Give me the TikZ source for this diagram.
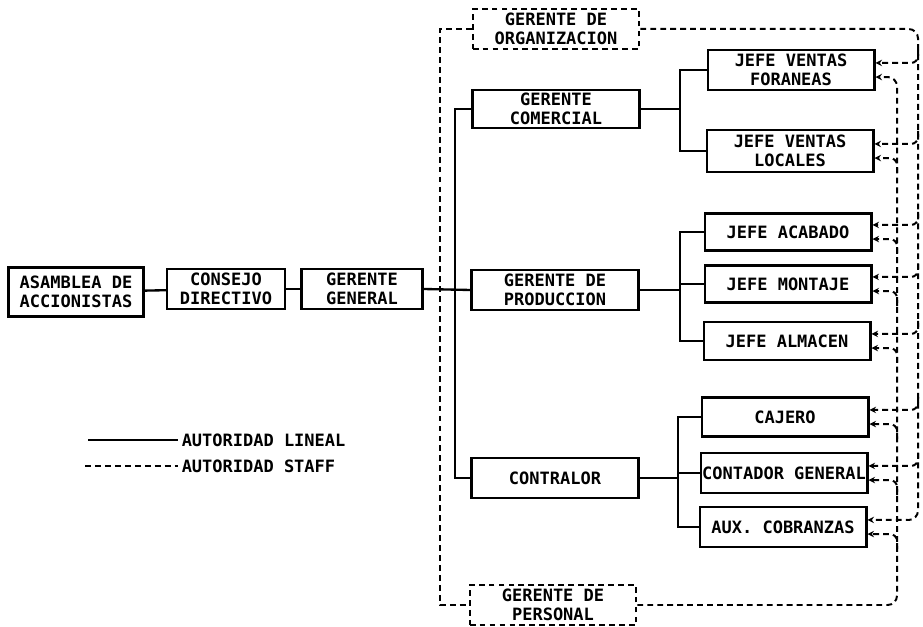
\documentclass[tikz,border=0pt]{standalone}
\usepackage{fontspec}
\setmonofont{DejaVu Sans Mono}
\usetikzlibrary{arrows.meta,calc}

\newcommand{\orgfont}{\ttfamily\bfseries\fontsize{14.5}{16}\selectfont}
\tikzset{
  caja/.style={draw,line width=2pt,align=center,inner sep=1pt,minimum width=5cm,minimum height=1.2cm,font=\orgfont},
  cajastaff/.style={caja,line width=1.7pt,dash pattern=on 5pt off 3.5pt},
  lineal/.style={line width=2pt},
  staff/.style={line width=1.7pt,dash pattern=on 5pt off 3.5pt},
  flecha/.style={staff,-{Stealth[length=5.5pt,width=5.5pt]}},
}

\begin{document}
\begin{tikzpicture}[x=0.03cm,y=-0.03cm]
\useasboundingbox (0,0) rectangle (923,627);
% cuerpo directivo
\node[caja,minimum width=4.05cm,minimum height=1.47cm] (asamblea) at (76,292) {ASAMBLEA DE\\ACCIONISTAS};
\node[caja,minimum width=3.54cm] (consejo) at (226,289) {CONSEJO\\DIRECTIVO};
\node[caja,minimum width=3.63cm] (general) at (362,289) {GERENTE\\GENERAL};
% gerencias
\node[cajastaff] (organizacion) at (556,29) {GERENTE DE\\ORGANIZACION};
\node[caja,minimum height=1.14cm] (comercial) at (556,109) {GERENTE\\COMERCIAL};
\node[caja] (produccion) at (555,290) {GERENTE DE\\PRODUCCION};
\node[caja] (contralor) at (555,478) {CONTRALOR};
\node[cajastaff] (personal) at (553,605) {GERENTE DE\\PERSONAL};
% jefaturas
\node[caja] (foraneas) at (791,70) {JEFE VENTAS\\FORANEAS};
\node[caja,minimum height=1.26cm] (locales) at (790,151) {JEFE VENTAS\\LOCALES};
\node[caja,minimum height=1.11cm] (acabado) at (788,232) {JEFE ACABADO};
\node[caja,minimum height=1.11cm] (montaje) at (788,284) {JEFE MONTAJE};
\node[caja,minimum height=1.14cm] (almacen) at (787,341) {JEFE ALMACEN};
\node[caja,minimum height=1.17cm] (cajero) at (785,417) {CAJERO};
\node[caja] (contador) at (784,473) {CONTADOR GENERAL};
\node[caja] (aux) at (783,527) {AUX. COBRANZAS};

% autoridad lineal
\coordinate (tronco) at (455,0);
\coordinate (rama) at (680,0);
\coordinate (rama2) at (678,0);
\draw[lineal] (asamblea) -- (consejo);
\draw[lineal] (consejo) -- (general);
\draw[lineal] (general.east) -- (produccion.west);
\draw[lineal] (comercial.west) -| (tronco |- contralor.west) -- (contralor.west);
\draw[lineal] (comercial.east) -- (comercial.east -| rama);
\draw[lineal] (foraneas.west) -| (rama |- locales.west) -- (locales.west);
\draw[lineal] (produccion.east) -- (produccion.east -| rama);
\draw[lineal] (acabado.west) -| (rama |- almacen.west) -- (almacen.west);
\draw[lineal] (montaje.west) -- (montaje.west -| rama);
\draw[lineal] (contralor.east) -- (contralor.east -| rama2);
\draw[lineal] (cajero.west) -| (rama2 |- aux.west) -- (aux.west);
\draw[lineal] (contador.west) -- (contador.west -| rama2);

% autoridad staff
\coordinate (izq) at (440,0);
\coordinate (ext) at (918,0);
\coordinate (int) at (897,0);
\draw[staff] (organizacion.west) -| (izq |- personal.west) -- (personal.west);
\draw[flecha,rounded corners=8pt] (organizacion.east) -- (organizacion.east -| ext)
  -- ($(ext |- aux.east)+(0,-7)$) -- ([yshift=6pt]aux.east);
\foreach \b in {foraneas,locales,acabado,montaje,almacen,cajero,contador}
  \draw[flecha,rounded corners=6pt] ($(ext |- \b.east)+(0,-20)$) |- ([yshift=6pt]\b.east);
\draw[flecha,rounded corners=8pt] (personal.east) -- (personal.east -| int)
  -- ($(int |- foraneas.east)+(0,7)$) -- ([yshift=-6pt]foraneas.east);
\foreach \b in {locales,acabado,montaje,almacen,cajero,contador,aux}
  \draw[flecha,rounded corners=6pt] ($(int |- \b.east)+(0,22)$) |- ([yshift=-6pt]\b.east);

% simbologia
\coordinate (lin1) at (88,440);
\coordinate (lin2) at (178,440);
\coordinate (stf1) at (85,466);
\coordinate (stf2) at (178,466);
\draw[lineal] (lin1) -- (lin2);
\draw[staff] (stf1) -- (stf2);
\node[anchor=west,font=\orgfont,inner sep=3pt] (txtlineal) at (lin2) {AUTORIDAD LINEAL};
\node[anchor=west,font=\orgfont,inner sep=3pt] (txtstaff) at (stf2) {AUTORIDAD STAFF};
\end{tikzpicture}
\end{document}
